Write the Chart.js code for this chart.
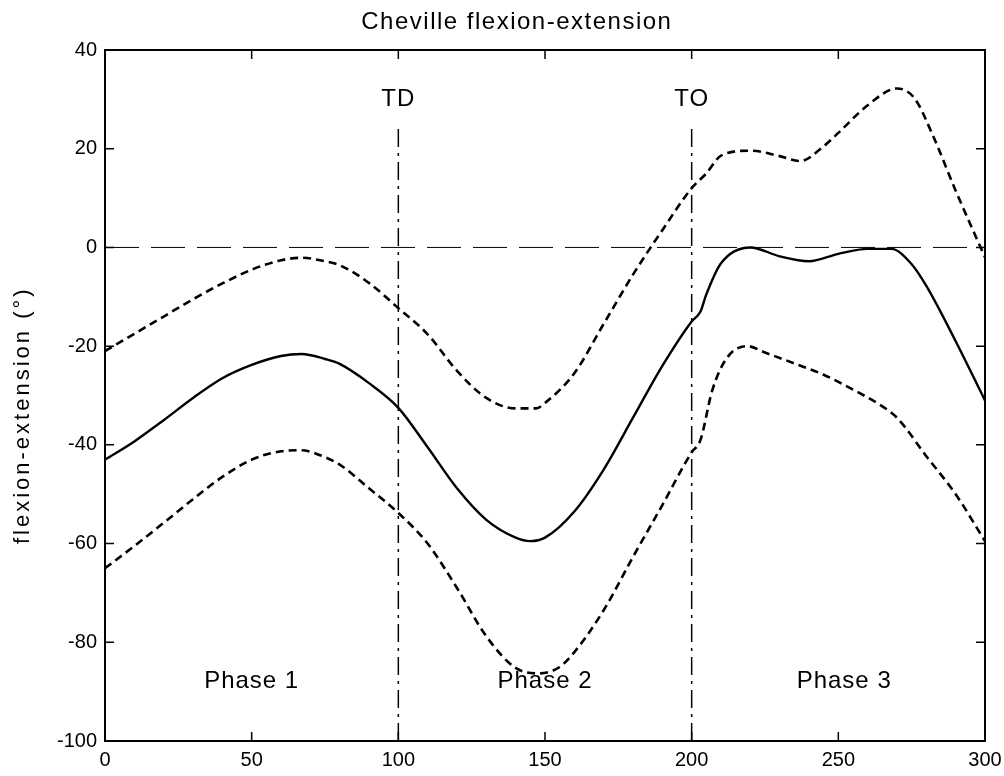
<!DOCTYPE html>
<html>
<head>
<meta charset="utf-8">
<title>Cheville flexion-extension</title>
<script src="https://cdn.jsdelivr.net/npm/chart.js@4.4.0/dist/chart.umd.min.js"></script>
<style>
    html, body { margin: 0; padding: 0; background: #fff; }
    #wrap { width: 1004px; height: 776px; }
</style>
</head>
<body>
<div id="wrap"><canvas id="ankleChart" width="1004" height="776"></canvas></div>
<script>
// Cheville flexion-extension : moyenne +/- ecart-type

const chartTitle = 'Cheville flexion-extension';
const yTitle = 'flexion-extension (°)';

const xTicks = [0, 50, 100, 150, 200, 250, 300];
const yTicks = [-100, -80, -60, -40, -20, 0, 20, 40];

// mean curve (solid)
const meanX = [0, 10, 20, 30, 40, 50, 60, 67, 75, 80, 90, 100, 110, 120, 130, 140, 145, 150, 160, 170, 180, 190, 200, 203, 205, 210, 220, 230, 240, 250, 260, 268, 275, 280, 290, 300];
const meanY = [-43, -39.3, -35, -30.5, -26.5, -23.8, -22, -21.6, -22.6, -23.6, -27.5, -32.5, -40.5, -48.8, -55.2, -58.8, -59.5, -58.8, -53.5, -45, -34.5, -24, -15, -13, -9.5, -3.2, 0, -1.8, -2.8, -1.3, -0.3, -0.3, -3.4, -7.8, -19, -31];

// upper band (dashed)
const upperX = [0, 10, 20, 30, 40, 50, 60, 67, 75, 80, 90, 100, 110, 120, 130, 140, 147, 150, 160, 170, 180, 190, 200, 205, 210, 220, 230, 237, 245, 250, 260, 270, 276, 282, 290, 300];
const upperY = [-21, -17.5, -14, -10.5, -7.3, -4.5, -2.6, -2.1, -2.8, -3.6, -7.2, -12.3, -17.6, -25, -30.5, -32.6, -32.6, -31.5, -25.5, -15.5, -5.5, 3.5, 12, 15, 18.6, 19.6, 18.5, 17.5, 20.5, 23.2, 28.8, 32.2, 30.2, 23, 11.5, -2];

// lower band (dashed)
const lowerX = [0, 10, 20, 30, 40, 50, 60, 67, 75, 80, 90, 100, 110, 120, 130, 140, 148, 155, 160, 170, 180, 190, 200, 203, 207, 212, 219, 225, 235, 245, 255, 265, 270, 280, 290, 300];
const lowerY = [-65, -60.5, -55.8, -51, -46.5, -43, -41.3, -41.1, -42.5, -44, -48.8, -53.8, -60, -69, -78.8, -85.2, -86.3, -85, -82, -73.5, -62.7, -52.2, -41.5, -39, -29, -22.4, -20, -21.3, -23.5, -25.8, -28.8, -32.2, -34.5, -42.3, -50, -59.5];

// reference lines
const zeroLineX = [0, 300];
const zeroLineY = [0, 0];
const eventX = [100, 200];
const eventYRange = [-100, 25];

// text notes inside the axes
const noteText = ['TD', 'TO', 'Phase 1', 'Phase 2', 'Phase 3'];
const noteX = [100, 200, 50, 150, 252];
const noteY = [30, 30, -88, -88, -88];

function toPoints(xs, ys) {
    return xs.map((x, i) => ({ x: x, y: ys[i] }));
}

const BLACK = '#000';
const FONT = 'Arial, "Liberation Sans", Helvetica, sans-serif';

// frame, inward ticks, notes, y label and title (MATLAB look)
const matlabFrame = {
    id: 'matlabFrame',
    afterDraw(chart) {
        const ctx = chart.ctx;
        const area = chart.chartArea;
        const sx = chart.scales.x;
        const sy = chart.scales.y;
        const tick = 9;

        ctx.save();
        ctx.strokeStyle = BLACK;
        ctx.lineWidth = 2;
        ctx.strokeRect(area.left, area.top, area.width, area.height);

        ctx.lineWidth = 1.5;
        ctx.beginPath();
        xTicks.forEach(v => {
            const px = sx.getPixelForValue(v);
            ctx.moveTo(px, area.bottom);
            ctx.lineTo(px, area.bottom - tick);
            ctx.moveTo(px, area.top);
            ctx.lineTo(px, area.top + tick);
        });
        yTicks.forEach(v => {
            const py = sy.getPixelForValue(v);
            ctx.moveTo(area.left, py);
            ctx.lineTo(area.left + tick, py);
            ctx.moveTo(area.right, py);
            ctx.lineTo(area.right - tick, py);
        });
        ctx.stroke();

        ctx.fillStyle = BLACK;
        ctx.textAlign = 'center';
        ctx.textBaseline = 'middle';
        ctx.font = '24px ' + FONT;
        ctx.letterSpacing = '1px';
        noteText.forEach((t, i) => {
            ctx.fillText(t, sx.getPixelForValue(noteX[i]), sy.getPixelForValue(noteY[i]));
        });

        // title
        ctx.font = '24px ' + FONT;
        ctx.letterSpacing = '1.5px';
        ctx.fillText(chartTitle, area.left + area.width * 0.468, 22);

        // y axis label
        ctx.save();
        ctx.translate(23, sy.getPixelForValue(-34));
        ctx.rotate(-Math.PI / 2);
        ctx.font = '22px ' + FONT;
        ctx.letterSpacing = '3px';
        ctx.fillText(yTitle, 0, 0);
        ctx.restore();

        ctx.restore();
    }
};

const dashedBand = {
    borderColor: BLACK,
    borderWidth: 2.6,
    borderDash: [8, 5],
    pointRadius: 0,
    cubicInterpolationMode: 'monotone',
    fill: false
};

new Chart(document.getElementById('ankleChart'), {
    type: 'line',
    data: {
        datasets: [
            {
                label: 'zero',
                data: toPoints(zeroLineX, zeroLineY),
                borderColor: BLACK,
                borderWidth: 1,
                borderDash: [34, 12],
                pointRadius: 0
            },
            {
                label: 'TD',
                data: toPoints([eventX[0], eventX[0]], eventYRange),
                borderColor: BLACK,
                borderWidth: 1.5,
                borderDash: [18, 6, 3, 6],
                pointRadius: 0
            },
            {
                label: 'TO',
                data: toPoints([eventX[1], eventX[1]], eventYRange),
                borderColor: BLACK,
                borderWidth: 1.5,
                borderDash: [18, 6, 3, 6],
                pointRadius: 0
            },
            Object.assign({ label: 'moyenne + SD', data: toPoints(upperX, upperY) }, dashedBand),
            Object.assign({ label: 'moyenne - SD', data: toPoints(lowerX, lowerY) }, dashedBand),
            {
                label: 'moyenne',
                data: toPoints(meanX, meanY),
                borderColor: BLACK,
                borderWidth: 2.4,
                pointRadius: 0,
                cubicInterpolationMode: 'monotone',
                fill: false
            }
        ]
    },
    options: {
        responsive: false,
        devicePixelRatio: 1,
        animation: false,
        layout: {
            padding: { top: 50, right: 19, left: 0, bottom: 0 }
        },
        plugins: {
            legend: { display: false },
            tooltip: { enabled: false },
            title: { display: false }
        },
        scales: {
            x: {
                type: 'linear',
                min: 0,
                max: 300,
                afterBuildTicks: scale => {
                    scale.ticks = xTicks.map(v => ({ value: v }));
                },
                afterFit: scale => {
                    scale.height = 35;
                    scale.paddingLeft = 0;
                    scale.paddingRight = 0;
                },
                grid: { display: false, drawTicks: false },
                border: { display: false },
                ticks: {
                    color: BLACK,
                    padding: 7,
                    maxRotation: 0,
                    font: { family: FONT, size: 20 }
                }
            },
            y: {
                type: 'linear',
                min: -100,
                max: 40,
                afterBuildTicks: scale => {
                    scale.ticks = yTicks.map(v => ({ value: v }));
                },
                afterFit: scale => {
                    scale.width = 105;
                    scale.paddingTop = 0;
                    scale.paddingBottom = 0;
                },
                grid: { display: false, drawTicks: false },
                border: { display: false },
                ticks: {
                    color: BLACK,
                    padding: 8,
                    font: { family: FONT, size: 20 }
                }
            }
        }
    },
    plugins: [matlabFrame]
});
</script>
</body>
</html>
